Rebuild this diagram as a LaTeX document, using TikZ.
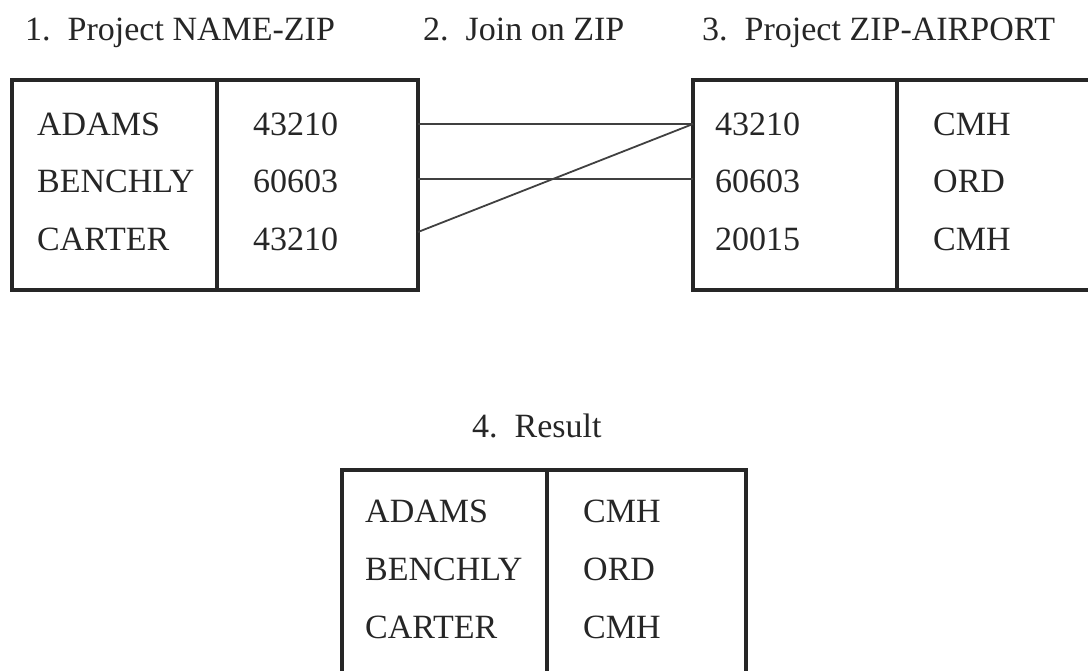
\documentclass[tikz,border=0pt]{standalone}
\usepackage{fontspec}
\setmainfont{Liberation Serif}
\begin{document}
\begin{tikzpicture}[x=1pt,y=-1pt,
  txt/.style={anchor=base west,inner sep=0pt,font=\fontsize{34}{40}\selectfont,text=black!85},
  border/.style={draw=black!85,line width=3.2pt},
  link/.style={draw=black!75,line width=1.8pt}]
\useasboundingbox (0,0) rectangle (1088,670);
% headers
\node[txt] (h1) at (25,40) {1.\ \ Project NAME-ZIP};
\node[txt] (h2) at (423,40) {2.\ \ Join on ZIP};
\node[txt] (h3) at (702,40) {3.\ \ Project ZIP-AIRPORT};
\node[txt] (h4) at (472,437) {4.\ \ Result};
% table 1
\draw[border] (12,80) rectangle (418,290);
\draw[border] (217,80) -- (217,290);
\node[txt] (n1) at (37,135) {ADAMS};
\node[txt] (n2) at (37,192) {BENCHLY};
\node[txt] (n3) at (37,250) {CARTER};
\node[txt] (z1) at (253,135) {43210};
\node[txt] (z2) at (253,192) {60603};
\node[txt] (z3) at (253,250) {43210};
% table 2
\draw[border] (1095,80) -- (693,80) -- (693,290) -- (1095,290);
\draw[border] (897,80) -- (897,290);
\node[txt] (y1) at (715,135) {43210};
\node[txt] (y2) at (715,192) {60603};
\node[txt] (y3) at (715,250) {20015};
\node[txt] (a1) at (933,135) {CMH};
\node[txt] (a2) at (933,192) {ORD};
\node[txt] (a3) at (933,250) {CMH};
% connectors
\coordinate (l1) at (418,124);
\coordinate (l2) at (418,179);
\coordinate (l3) at (418,232);
\coordinate (r1) at (693,124);
\coordinate (r2) at (693,179);
\draw[link] (l1) -- (r1);
\draw[link] (l2) -- (r2);
\draw[link] (l3) -- (r1);
% table 4
\draw[border] (342,680) -- (342,470) -- (746,470) -- (746,680);
\draw[border] (547,470) -- (547,680);
\node[txt] (m1) at (365,522) {ADAMS};
\node[txt] (m2) at (365,580) {BENCHLY};
\node[txt] (m3) at (365,638) {CARTER};
\node[txt] (b1) at (583,522) {CMH};
\node[txt] (b2) at (583,580) {ORD};
\node[txt] (b3) at (583,638) {CMH};
\end{tikzpicture}
\end{document}
